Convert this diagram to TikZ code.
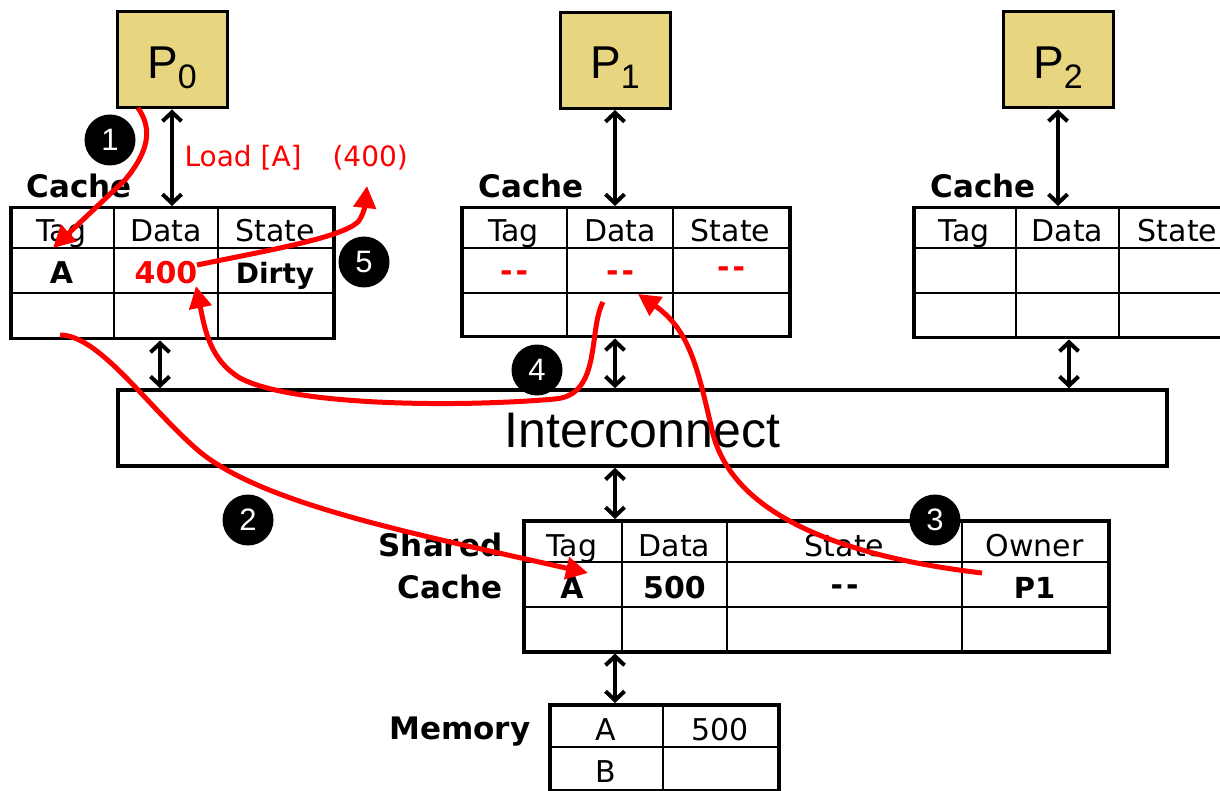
\documentclass[tikz,border=0pt]{standalone}
\usepackage{fontspec}
\setmainfont{DejaVu Sans}
\newfontfamily\arial{Liberation Sans}
\usetikzlibrary{arrows.meta}
\definecolor{pfill}{RGB}{232,213,128}
\definecolor{myred}{RGB}{255,0,0}
\begin{document}
\begin{tikzpicture}[x=1pt,y=-1pt,
 proc/.style={draw, line width=3pt, fill=pfill, minimum width=110pt, minimum height=96pt, inner sep=0pt},
 box/.style={draw, line width=3.5pt, inner sep=0pt, anchor=north west},
 hdr/.style={line width=2.8pt},
 sep/.style={line width=1.6pt},
 col/.style={line width=2pt},
 dbl/.style={line width=4pt, {Straight Barb[length=9pt,width=19pt]}-{Straight Barb[length=9pt,width=19pt]}},
 redarr/.style={draw=myred, line width=5pt, -{Triangle[length=22pt,width=22pt]}, line join=round},
 num/.style={circle, fill=black, minimum size=51pt, inner sep=0pt, text=white, font=\arial\fontsize{31}{31}\selectfont},
 hd/.style={anchor=base, font=\fontsize{30}{30}\selectfont},
 bv/.style={anchor=base, font=\bfseries\fontsize{30}{30}\selectfont},
 lbl/.style={font=\bfseries\fontsize{31}{31}\selectfont},
 ptxt/.style={anchor=base, font=\arial\fontsize{46}{46}\selectfont},
 rdash/.style={text=myred, font=\bfseries\fontsize{30}{30}\selectfont},
 rtxt/.style={anchor=base west, text=myred, font=\fontsize{28}{28}\selectfont},
]
\useasboundingbox (0,0) rectangle (1220,791);
\fill[white] (0,0) rectangle (1220,791);

% processors
\node[proc] (p0) at (172,60) {};
\node[proc] (p1) at (615,60.5) {};
\node[proc] (p2) at (1058,60) {};
\node[ptxt] (p0t) at (172,79) {P\raisebox{-10pt}{\fontsize{34}{34}\selectfont 0}};
\node[ptxt] (p1t) at (615,79) {P\raisebox{-10pt}{\fontsize{34}{34}\selectfont 1}};
\node[ptxt] (p2t) at (1058,79) {P\raisebox{-10pt}{\fontsize{34}{34}\selectfont 2}};

% cache 0
\node[box, minimum width=323pt, minimum height=131pt] (c0) at (9,206) {};
\draw[hdr] (9,248) -- (332,248);
\draw[sep] (9,293) -- (332,293);
\draw[col] (114,206) -- (114,337) (218,206) -- (218,337);
\node[lbl, anchor=base west] (c0l) at (23,198) {Cache};
\node[hd] at (61.5,242) {Tag};
\node[hd] at (166,242) {Data};
\node[hd] at (275,242) {State};
\node[bv] (c0a) at (61.5,284) {A};
\node[bv, text=myred] (c0d) at (166,284) {400};
\node[bv, font=\bfseries\fontsize{28}{28}\selectfont] (c0s) at (275,284) {Dirty};

% cache 1
\node[box, minimum width=328pt, minimum height=129pt] (c1) at (460,206) {};
\draw[hdr] (460,248) -- (788,248);
\draw[sep] (460,293) -- (788,293);
\draw[col] (567,206) -- (567,335) (673,206) -- (673,335);
\node[lbl, anchor=base west] (c1l) at (475,198) {Cache};
\node[hd] at (513.5,242) {Tag};
\node[hd] at (620,242) {Data};
\node[hd] at (730.5,242) {State};
\node[rdash] at (514,276) {-\kern3pt-};
\node[rdash] at (620,276) {-\kern3pt-};
\node[rdash] at (731,272) {-\kern3pt-};

% cache 2
\node[box, minimum width=324pt, minimum height=130pt] (c2) at (912,206) {};
\draw[hdr] (912,248) -- (1236,248);
\draw[sep] (912,293) -- (1236,293);
\draw[col] (1016,206) -- (1016,336) (1119,206) -- (1119,336);
\node[lbl, anchor=base west] (c2l) at (927,198) {Cache};
\node[hd] at (964,242) {Tag};
\node[hd] at (1067.5,242) {Data};
\node[hd] at (1177.5,242) {State};

% interconnect
\node[draw, line width=3.5pt, inner sep=0pt, minimum width=1049pt, minimum height=76pt] (ic) at (642.5,428) {};
\node[anchor=base, font=\arial\fontsize{50}{50}\selectfont] (ict) at (642.5,447) {Interconnect};

% shared cache
\node[box, minimum width=585pt, minimum height=131pt] (sc) at (522,519) {};
\draw[hdr] (522,562) -- (1107,562);
\draw[sep] (522,607) -- (1107,607);
\draw[col] (622,519) -- (622,650) (727,519) -- (727,650) (962,519) -- (962,650);
\node[lbl, anchor=base east] (scl1) at (506,556) {Shared};
\node[lbl, anchor=base east] (scl2) at (506,598) {Cache};
\node[hd] at (572,556) {Tag};
\node[hd] at (674.5,556) {Data};
\node[hd] at (844.5,556) {State};
\node[hd] at (1034.5,556) {Owner};
\node[bv] at (572,598) {A};
\node[bv] at (674.5,598) {500};
\node[rdash, text=black] at (844.5,590) {-\kern3pt-};
\node[bv, font=\bfseries\fontsize{29}{29}\selectfont] (scp) at (1034.5,598) {P1};

% memory
\node[box, minimum width=229pt, minimum height=86pt] (mem) at (548,703) {};
\draw[sep] (548,747) -- (777,747);
\draw[col] (663,703) -- (663,789);
\node[lbl, anchor=base east] (meml) at (534,739) {Memory};
\node[hd] at (605.5,740) {A};
\node[hd] at (720,740) {500};
\node[hd] at (605.5,782) {B};

% black arrows
\draw[dbl] (p0.south) -- (p0.south |- c0.north);
\draw[dbl] (p1.south) -- (p1.south |- c1.north);
\draw[dbl] (p2.south) -- (p2.south |- c2.north);
\coordinate (a0) at (160,0);
\coordinate (a1) at (615,0);
\coordinate (a2) at (1069,0);
\draw[dbl] (a0 |- c0.south) -- (a0 |- ic.north);
\draw[dbl] (a1 |- c1.south) -- (a1 |- ic.north);
\draw[dbl] (a2 |- c2.south) -- (a2 |- ic.north);
\draw[dbl] (a1 |- ic.south) -- (a1 |- sc.north);
\draw[dbl] (a1 |- sc.south) -- (a1 |- mem.north);

% red text
\node[rtxt] (ld) at (181,167) {Load [A]};
\node[rtxt] (ld4) at (329,167) {(400)};

% red paths
\draw[redarr] (138,108) .. controls (152,128) and (150,150) .. (125,180) -- (53,248);
\draw[redarr] (60,335) .. controls (100,335) and (150,410) .. (200,452) .. controls (265,505) and (420,535) .. (588,573);
\draw[redarr] (982,573) .. controls (830,555) and (730,510) .. (712,430) .. controls (698,370) and (690,330) .. (638,294);
\draw[redarr] (603,302) .. controls (588,330) and (602,395) .. (555,399) .. controls (450,408) and (290,405) .. (240,378) .. controls (210,360) and (205,330) .. (196,286);
\draw[redarr] (197,265) .. controls (270,250) and (340,238) .. (358,222) .. controls (364,214) and (365,205) .. (367,186);

% step numbers
\node[num] (n1) at (110,140) {1};
\node[num] (n2) at (248,520) {2};
\node[num] (n3) at (935,520) {3};
\node[num] (n4) at (537,370) {4};
\node[num] (n5) at (364,262) {5};
\end{tikzpicture}
\end{document}
